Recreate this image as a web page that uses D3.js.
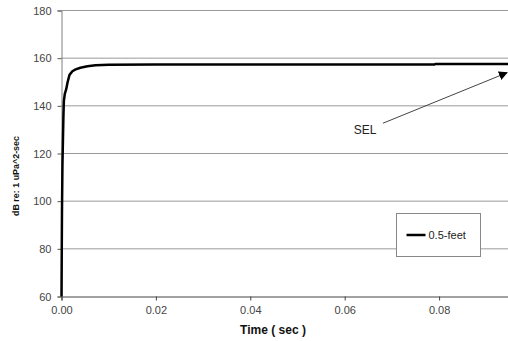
<!DOCTYPE html>
<html>
<head>
<meta charset="utf-8">
<script src="https://cdn.jsdelivr.net/npm/d3@7"></script>
<style>
  body { margin: 0; background: #fff; }
  svg { font-family: "Liberation Sans", Arial, sans-serif; }
</style>
</head>
<body>
<svg id="chart" width="508" height="341"></svg>
<script>
// data
var times  = [0, 0.0001, 0.0002, 0.0003, 0.0004, 0.0005, 0.0007, 0.001, 0.0013, 0.0017, 0.0023, 0.003, 0.004, 0.0055, 0.0072, 0.01, 0.02, 0.04, 0.06, 0.079, 0.0792, 0.095];
var levels = [60, 95, 115, 125, 135, 142, 145, 147, 150, 153, 154.5, 155.3, 156, 156.6, 157, 157.2, 157.3, 157.3, 157.3, 157.3, 157.6, 157.6];
var xTicks = [0, 0.02, 0.04, 0.06, 0.08];
var yTicks = [60, 80, 100, 120, 140, 160, 180];
var seriesName = "0.5-feet";

var svg = d3.select("#chart"),
    width = +svg.attr("width"),
    height = +svg.attr("height");

var x = d3.scaleLinear().domain([0, 0.0946]).range([61.5, 508]);
var y = d3.scaleLinear().domain([60, 180]).range([296.5, 10.5]);

// gridlines
svg.append("g")
  .selectAll("line")
  .data(yTicks.slice(1))
  .enter().append("line")
    .attr("x1", x(0)).attr("x2", width)
    .attr("y1", function(d) { return y(d); })
    .attr("y2", function(d) { return y(d); })
    .attr("stroke", "#9a9a9a")
    .attr("stroke-width", 1);

// y axis
var yAxis = svg.append("g")
  .attr("transform", "translate(" + x(0) + ",0)")
  .call(d3.axisLeft(y).tickValues(yTicks).tickSize(4).tickPadding(6).tickFormat(d3.format("d")));
yAxis.select(".domain").attr("stroke", "#808080");
yAxis.selectAll(".tick line").attr("stroke", "#555");
yAxis.selectAll("text").attr("font-size", 11).attr("fill", "#444").attr("font-family", "Liberation Sans, Arial");

// x axis
var xAxis = svg.append("g")
  .attr("transform", "translate(0," + y(60) + ")")
  .call(d3.axisBottom(x).tickValues(xTicks).tickSize(4).tickPadding(6).tickFormat(d3.format(".2f")));
xAxis.select(".domain").attr("stroke", "#444");
xAxis.selectAll(".tick line").attr("stroke", "#444");
xAxis.selectAll("text").attr("font-size", 11).attr("fill", "#444").attr("font-family", "Liberation Sans, Arial");

// curve
var pts = times.map(function(t, i) { return [t, levels[i]]; });
svg.append("path")
  .datum(pts)
  .attr("fill", "none")
  .attr("stroke", "#000")
  .attr("stroke-width", 2.5)
  .attr("stroke-linejoin", "round")
  .attr("d", d3.line()
    .x(function(d) { return x(d[0]); })
    .y(function(d) { return y(d[1]); }));

// SEL annotation with arrow
svg.append("defs").append("marker")
  .attr("id", "arr")
  .attr("viewBox", "0 0 10 10")
  .attr("refX", 9).attr("refY", 5)
  .attr("markerWidth", 9).attr("markerHeight", 9)
  .attr("markerUnits", "userSpaceOnUse")
  .attr("orient", "auto")
  .append("path").attr("d", "M0,0L10,5L0,10Z").attr("fill", "#000");

svg.append("line")
  .attr("x1", x(0.0681)).attr("y1", y(132.7))
  .attr("x2", x(0.0944)).attr("y2", y(153.9))
  .attr("stroke", "#444")
  .attr("stroke-width", 1)
  .attr("marker-end", "url(#arr)");

svg.append("text")
  .attr("x", x(0.0643)).attr("y", y(129.7) + 4)
  .attr("text-anchor", "middle")
  .attr("font-size", 12)
  .attr("fill", "#222")
  .text("SEL");

// legend
var legend = svg.append("g").attr("transform", "translate(396.5,213.5)");
legend.append("rect")
  .attr("width", 84).attr("height", 43)
  .attr("fill", "#fff")
  .attr("stroke", "#888");
legend.append("line")
  .attr("x1", 10).attr("x2", 29)
  .attr("y1", 21.5).attr("y2", 21.5)
  .attr("stroke", "#000").attr("stroke-width", 2.5);
legend.append("text")
  .attr("x", 32).attr("y", 25.5)
  .attr("font-size", 11)
  .attr("fill", "#222")
  .text(seriesName);

// axis titles
svg.append("text")
  .attr("x", 273).attr("y", 334)
  .attr("text-anchor", "middle")
  .attr("font-size", 12)
  .attr("font-weight", "bold")
  .attr("fill", "#111")
  .text("Time ( sec )");

svg.append("text")
  .attr("transform", "translate(19,176)rotate(-90)")
  .attr("text-anchor", "middle")
  .attr("font-size", 9)
  .attr("font-weight", "bold")
  .attr("fill", "#111")
  .attr("textLength", 80)
  .attr("lengthAdjust", "spacingAndGlyphs")
  .text("dB re: 1 uPa^2-sec");
</script>
</body>
</html>
